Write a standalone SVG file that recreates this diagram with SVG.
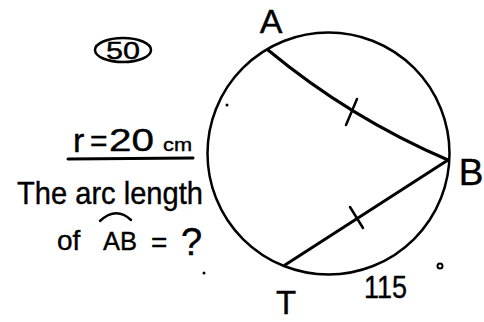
<svg xmlns="http://www.w3.org/2000/svg" width="484" height="322" viewBox="0 0 484 322">
<style>
.ink{fill:none;stroke:#000;stroke-linecap:round;stroke-linejoin:round}
.t{font-family:"Liberation Sans","DejaVu Sans",sans-serif;fill:#000;stroke:#000;stroke-width:0.4}
</style>
<rect width="484" height="322" fill="#fff"/>
<g id="problem-number">
<ellipse class="ink" cx="123" cy="50" rx="28" ry="12" stroke-width="2.5"/>
<text class="t" x="123" y="58.5" font-size="24" text-anchor="middle" textLength="34" lengthAdjust="spacingAndGlyphs">50</text>
</g>
<g id="given">
<text class="t" x="73" y="152" font-size="34">r</text>
<text class="t" x="90" y="151" font-size="30">=</text>
<text class="t" x="109" y="151" font-size="32" textLength="45" lengthAdjust="spacingAndGlyphs">20</text>
<text class="t" x="163" y="151" font-size="19" textLength="29" lengthAdjust="spacingAndGlyphs">cm</text>
<path class="ink" d="M68,159 L193,158" stroke-width="3"/>
<text class="t" x="17" y="204" font-size="32" textLength="186" lengthAdjust="spacingAndGlyphs">The arc length</text>
<text class="t" x="57" y="250" font-size="28">of</text>
<text class="t" x="103" y="250" font-size="26" textLength="34" lengthAdjust="spacingAndGlyphs">AB</text>
<path class="ink" d="M100,221 Q116,206 131,220" stroke-width="2.5"/>
<text class="t" x="151" y="252" font-size="28">=</text>
<text class="t" x="181" y="255" font-size="38">?</text>
</g>
<g id="circle">
<circle class="ink" cx="328.5" cy="153.5" r="121" stroke-width="2.5"/>
</g>
<g id="connectors">
<path class="ink" d="M268,50 Q350,118 448,160" stroke-width="3"/>
<path class="ink" d="M285,265 L448,160" stroke-width="3"/>
<path class="ink" d="M346,125 L357,99" stroke-width="2.5"/>
<path class="ink" d="M350,207 L363,228" stroke-width="2.5"/>
</g>
<g id="A"><text class="t" x="271" y="33" font-size="34" text-anchor="middle">A</text></g>
<g id="B"><text class="t" x="471" y="185" font-size="37" text-anchor="middle">B</text></g>
<g id="T"><text class="t" x="286" y="314" font-size="33" text-anchor="middle">T</text></g>
<g id="angle">
<text class="t" x="364" y="298" font-size="31" textLength="43" lengthAdjust="spacingAndGlyphs">115</text>
<circle class="ink" cx="440" cy="266" r="2.5" stroke-width="2"/>
</g>
<g id="marks">
<circle cx="227" cy="105" r="1.5" fill="#000"/>
<circle cx="204" cy="273" r="1.5" fill="#000"/>
</g>
</svg>
